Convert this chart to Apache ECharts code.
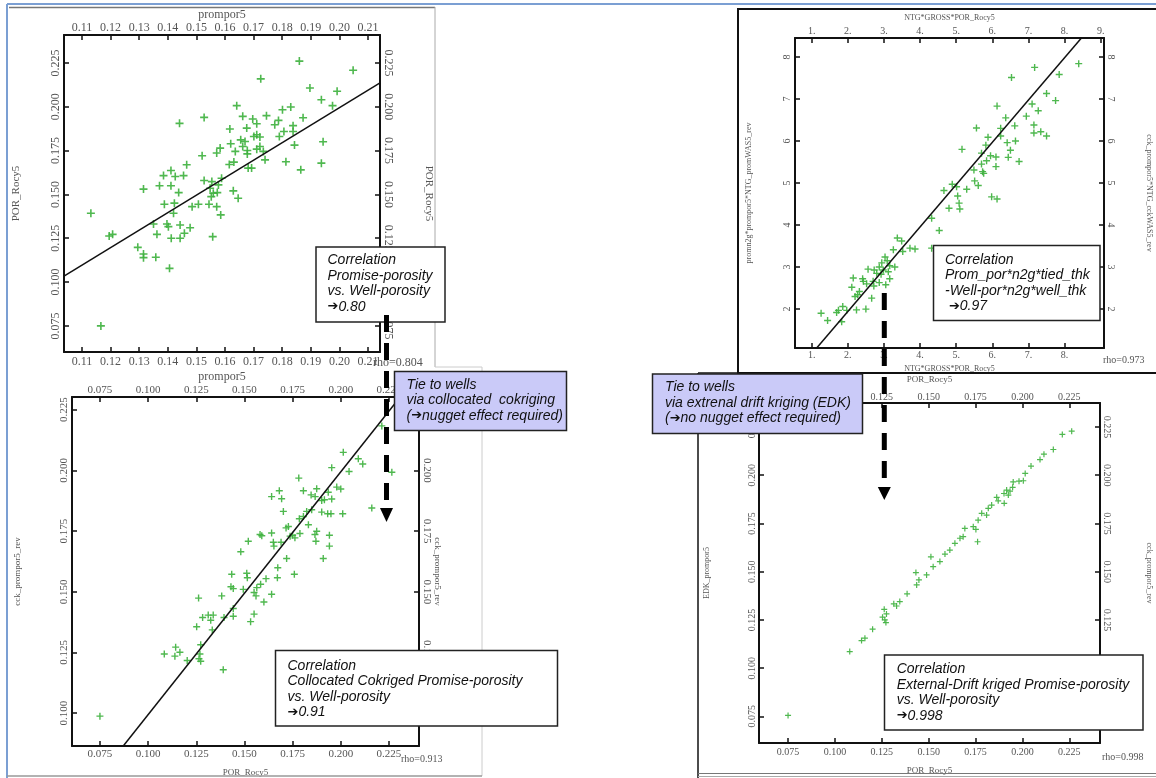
<!DOCTYPE html>
<html>
<head>
<meta charset="utf-8">
<script src="https://cdn.jsdelivr.net/npm/echarts@6/dist/echarts.min.js"></script>
<style>
html, body { margin: 0; padding: 0; background: #ffffff; }
#chart { width: 1156px; height: 778px; }
</style>
</head>
<body>
<div id="chart"></div>
<script>
// ---- Promise porosity (prompor5) vs. well porosity (POR_Rocy5) ----
const promVsWell = [
  [0.186,0.226],[0.2048,0.2208],[0.1725,0.2159],[0.1897,0.2107],[0.1992,0.2088],[0.1937,0.2040],[0.1976,0.2006],
  [0.1641,0.2006],[0.1801,0.1983],[0.1830,0.1998],[0.1662,0.1945],[0.1745,0.1949],[0.1873,0.1937],[0.1527,0.1939],
  [0.1441,0.1905],[0.1697,0.1930],[0.1711,0.1903],[0.1676,0.1878],[0.1774,0.1897],[0.1787,0.1922],[0.1838,0.1892],
  [0.1617,0.1873],[0.1790,0.1830],[0.1806,0.1859],[0.1838,0.1859],[0.1711,0.1840],[0.1701,0.1830],[0.1722,0.1827],
  [0.1655,0.1811],[0.1670,0.1802],[0.1620,0.1789],[0.1583,0.1764],[0.1662,0.1773],[0.1722,0.1773],[0.1843,0.1781],
  [0.1943,0.1800],[0.1636,0.1745],[0.1678,0.1750],[0.1678,0.1731],[0.1711,0.1758],[0.1734,0.1745],[0.1740,0.1697],
  [0.1520,0.1720],[0.1571,0.1736],[0.1631,0.1684],[0.1813,0.1686],[0.1937,0.1678],[0.1466,0.1669],[0.1615,0.1670],
  [0.1681,0.1650],[0.1693,0.1650],[0.1865,0.1640],[0.1385,0.1607],[0.1411,0.1636],[0.1426,0.1602],[0.1455,0.1607],
  [0.1527,0.1579],[0.1554,0.1573],[0.1588,0.1592],[0.1371,0.1549],[0.1411,0.1549],[0.1438,0.1510],[0.1315,0.1530],
  [0.1548,0.1535],[0.1577,0.1554],[0.1629,0.1520],[0.1559,0.1507],[0.1573,0.1510],[0.1646,0.1478],[0.1552,0.1487],
  [0.1388,0.1444],[0.1423,0.1450],[0.1485,0.1430],[0.1507,0.1444],[0.1544,0.1444],[0.1571,0.1430],[0.1585,0.1383],
  [0.1131,0.1392],[0.1350,0.1331],[0.1397,0.1331],[0.1402,0.1316],[0.1443,0.1325],[0.1478,0.1310],[0.1420,0.1392],
  [0.1195,0.1263],[0.1207,0.1272],[0.1362,0.1272],[0.1412,0.1250],[0.1443,0.1250],[0.1458,0.1278],[0.1557,0.1259],
  [0.1295,0.1198],[0.1315,0.1160],[0.1315,0.1139],[0.1358,0.1141],[0.1406,0.1078],[0.1166,0.0750]
];
const promFit = [[0.1037,0.1034],[0.2142,0.2136]];

// ---- Well porosity vs. collocated cokriged promise porosity (cck_prompor5_rev) ----
const cokrigVsWell = [
  [0.2013,0.2074],[0.2091,0.2048],[0.2114,0.2026],[0.1953,0.2011],[0.2043,0.1995],[0.2265,0.1992],[0.2213,0.2183],
  [0.1782,0.1968],[0.1681,0.1916],[0.1806,0.1916],[0.1875,0.1924],[0.1641,0.1892],[0.1693,0.1883],[0.1846,0.1899],
  [0.1867,0.1892],[0.1935,0.1910],[0.1979,0.1931],[0.2000,0.1923],[0.1901,0.1876],[0.1915,0.1879],[0.1953,0.1882],
  [0.2161,0.1845],[0.1702,0.1831],[0.1823,0.1831],[0.1849,0.1838],[0.1901,0.1828],[0.1932,0.1821],[0.1949,0.1821],
  [0.2010,0.1821],[0.1785,0.1801],[0.1806,0.1810],[0.1832,0.1776],[0.1728,0.1769],[0.1716,0.1763],[0.1875,0.1749],
  [0.1866,0.1736],[0.1941,0.1733],[0.1581,0.1736],[0.1590,0.1731],[0.1641,0.1742],[0.1737,0.1729],[0.1750,0.1733],
  [0.1762,0.1722],[0.1788,0.1740],[0.1520,0.1708],[0.1650,0.1704],[0.1690,0.1704],[0.1871,0.1708],[0.1653,0.1688],
  [0.1941,0.1688],[0.1481,0.1665],[0.1719,0.1637],[0.1909,0.1637],[0.1434,0.1572],[0.1512,0.1576],[0.1515,0.1558],
  [0.1612,0.1554],[0.1673,0.1599],[0.1671,0.1558],[0.1759,0.1572],[0.1430,0.1521],[0.1442,0.1513],[0.1382,0.1483],
  [0.1494,0.1510],[0.1550,0.1497],[0.1560,0.1483],[0.1584,0.1531],[0.1564,0.1517],[0.1641,0.1490],[0.1601,0.1458],
  [0.1262,0.1474],[0.1442,0.1431],[0.1312,0.1404],[0.1338,0.1404],[0.1325,0.1383],[0.1283,0.1394],[0.1394,0.1394],
  [0.1442,0.1399],[0.1550,0.1408],[0.1532,0.1377],[0.1252,0.1356],[0.1333,0.1343],[0.1273,0.1282],[0.1143,0.1272],
  [0.1165,0.1251],[0.1139,0.1235],[0.1084,0.1244],[0.1203,0.1217],[0.1264,0.1224],[0.1273,0.1214],[0.1269,0.1244],
  [0.1390,0.1179],[0.0750,0.0988]
];
const cokrigFit = [[0.0871,0.0865],[0.2305,0.2299]];

// ---- Thickness-weighted pore volume: NTG*GROSS*POR_Rocy5 vs. promise equivalent ----
const poreVolume = [
  [8.39,7.84],[7.17,7.75],[7.85,7.58],[6.53,7.51],[7.50,7.13],[7.75,6.96],[6.13,6.83],[7.10,6.88],[7.27,6.72],
  [6.37,6.55],[6.94,6.59],[6.62,6.36],[6.23,6.30],[5.56,6.31],[7.15,6.38],[7.15,6.19],[7.34,6.22],[7.50,6.12],
  [5.88,6.09],[6.23,6.12],[5.82,5.90],[6.41,5.96],[6.64,6.00],[5.16,5.80],[6.50,5.78],[5.70,5.71],[5.95,5.65],
  [6.10,5.62],[6.44,5.61],[5.84,5.53],[5.70,5.45],[6.74,5.51],[6.10,5.39],[5.49,5.31],[5.73,5.27],[5.76,5.23],
  [5.51,5.05],[5.61,4.94],[4.89,4.97],[5.01,4.91],[5.29,4.85],[4.66,4.82],[5.98,4.67],[6.13,4.62],[5.04,4.69],
  [5.08,4.52],[4.80,4.40],[5.10,4.38],[4.32,4.16],[4.53,3.87],[3.37,3.69],[3.49,3.62],[3.26,3.41],[3.52,3.37],
  [3.72,3.45],[3.86,3.43],[4.32,3.45],[3.03,3.24],[3.09,3.15],[2.94,3.10],[3.16,3.03],[2.87,3.00],[3.30,3.00],
  [2.56,2.95],[2.73,2.93],[2.98,2.93],[2.80,2.85],[3.12,2.89],[2.92,2.83],[2.15,2.74],[2.41,2.72],[2.43,2.66],
  [2.70,2.66],[2.52,2.60],[2.72,2.55],[2.87,2.63],[3.16,2.72],[3.05,2.58],[2.11,2.52],[2.32,2.42],[2.27,2.34],
  [2.20,2.30],[2.66,2.26],[1.86,2.06],[1.74,1.97],[1.69,1.92],[1.97,1.97],[2.24,1.98],[2.50,2.00],[1.26,1.90],
  [1.44,1.73],[1.83,1.70]
];
const poreFit = [[1.138,1.074],[8.465,8.45]];

// ---- Well porosity vs. external-drift kriged promise porosity (EDK_prompor5) ----
const edkVsWell = [
  [0.2263,0.2228],[0.2213,0.2211],[0.2165,0.2133],[0.2115,0.2109],[0.2094,0.2081],[0.2046,0.2047],[0.2015,0.2009],
  [0.2005,0.1971],[0.1982,0.1969],[0.1951,0.1965],[0.1948,0.1937],[0.1916,0.1923],[0.1934,0.1917],[0.1902,0.1905],
  [0.1925,0.1897],[0.1863,0.1885],[0.1871,0.1867],[0.1903,0.1854],[0.1836,0.1845],[0.1818,0.1828],[0.1783,0.1802],
  [0.1809,0.1793],[0.1764,0.1767],[0.1738,0.1733],[0.1693,0.1724],[0.1752,0.1719],[0.1684,0.1681],[0.1667,0.1673],
  [0.1761,0.1655],[0.1640,0.1647],[0.1613,0.1612],[0.1587,0.1591],[0.1512,0.1577],[0.1560,0.1552],[0.1524,0.1526],
  [0.1489,0.1483],[0.1432,0.1495],[0.1448,0.1457],[0.1436,0.1431],[0.1385,0.1385],[0.1346,0.1345],[0.1314,0.1333],
  [0.1329,0.1322],[0.1263,0.1305],[0.1275,0.1281],[0.1254,0.1264],[0.1266,0.1250],[0.1272,0.1236],[0.1201,0.1202],
  [0.1160,0.1155],[0.1142,0.1143],[0.1079,0.1086],[0.0750,0.0755]
];

// ---- tick values ----
const promTicksX = [0.11,0.12,0.13,0.14,0.15,0.16,0.17,0.18,0.19,0.20,0.21];
const promTicksY = [0.075,0.100,0.125,0.150,0.175,0.200,0.225];
const cokrigTicksX = [0.075,0.100,0.125,0.150,0.175,0.200,0.225];
const cokrigTicksY = [0.100,0.125,0.150,0.175,0.200,0.225];
const poreTicksTop = [1,2,3,4,5,6,7,8,9];
const poreTicksBottom = [1,2,3,4,5,6,7,8];
const poreTicksY = [2,3,4,5,6,7,8];
const edkTicksX = [0.075,0.100,0.125,0.150,0.175,0.200,0.225];
const edkTicksY = [0.075,0.100,0.125,0.150,0.175,0.200,0.225];

const rhoLabels = ['rho=0.804', 'rho=0.913', 'rho=0.973', 'rho=0.998'];

// ---- styling helpers ----
const SERIF = '"Liberation Serif", "DejaVu Serif", serif';
const SANS = '"Liberation Sans", Arial, sans-serif';
const GREEN = '#3cb03c';
const PLUS = 'path://M4,0H6V4H10V6H6V10H4V6H0V4H4Z';
const fmt2 = v => v.toFixed(2);
const fmt3 = v => v.toFixed(3);
const fmtDot = v => v + '.';
const fmtInt = v => String(v);

function valueAxis(o) {
  const isY = o.position === 'left' || o.position === 'right';
  let rotate = 0;
  if (o.position === 'left') rotate = 90;
  if (o.position === 'right') rotate = -90;
  return {
    type: 'value',
    gridIndex: o.grid,
    position: o.position,
    min: o.min,
    max: o.max,
    scale: true,
    splitLine: { show: false },
    axisLine: { show: true, onZero: false, lineStyle: { color: '#111', width: 2 } },
    axisTick: { show: true, inside: true, length: 5, customValues: o.ticks,
                lineStyle: { color: '#111', width: 1.5 } },
    axisLabel: { show: true, customValues: o.ticks, formatter: o.fmt, rotate: rotate,
                 margin: o.margin, fontFamily: SERIF, fontSize: o.fontSize, color: '#555' },
    name: o.name || '',
    nameLocation: 'middle',
    nameGap: o.nameGap || 0,
    nameRotate: o.position === 'right' ? -90 : (isY ? 90 : 0),
    nameTextStyle: { fontFamily: SERIF, fontSize: o.nameSize || 10, color: '#555' }
  };
}

const grids = [
  { left: 64,  top: 35,  width: 316, height: 317 },
  { left: 72,  top: 397, width: 347, height: 351 },
  { left: 795, top: 38,  width: 309, height: 310 },
  { left: 759, top: 403, width: 341, height: 340 }
];

const xAxes = [
  // prompor5 vs POR_Rocy5
  valueAxis({ grid: 0, position: 'bottom', min: 0.1037, max: 0.2142, ticks: promTicksX, fmt: fmt2, margin: 4, fontSize: 12,
              name: 'prompor5', nameGap: 19, nameSize: 12 }),
  valueAxis({ grid: 0, position: 'top', min: 0.1037, max: 0.2142, ticks: promTicksX, fmt: fmt2, margin: 1, fontSize: 12,
              name: 'prompor5', nameGap: 14, nameSize: 12 }),
  // POR_Rocy5 vs cck_prompor5_rev
  valueAxis({ grid: 1, position: 'bottom', min: 0.0605, max: 0.2406, ticks: cokrigTicksX, fmt: fmt3, margin: 3, fontSize: 11,
              name: 'POR_Rocy5', nameGap: 22, nameSize: 9 }),
  valueAxis({ grid: 1, position: 'top', min: 0.0605, max: 0.2406, ticks: cokrigTicksX, fmt: fmt3, margin: 1, fontSize: 11 }),
  // NTG*GROSS*POR_Rocy5 vs promise pore volume
  valueAxis({ grid: 2, position: 'bottom', min: 0.538, max: 9.09, ticks: poreTicksBottom, fmt: fmtDot, margin: 2, fontSize: 10,
              name: 'NTG*GROSS*POR_Rocy5', nameGap: 17, nameSize: 8 }),
  valueAxis({ grid: 2, position: 'top', min: 0.538, max: 9.09, ticks: poreTicksTop, fmt: fmtDot, margin: 2, fontSize: 10,
              name: 'NTG*GROSS*POR_Rocy5', nameGap: 16, nameSize: 8 }),
  // POR_Rocy5 vs EDK_prompor5
  valueAxis({ grid: 3, position: 'bottom', min: 0.0595, max: 0.2414, ticks: edkTicksX, fmt: fmt3, margin: 4, fontSize: 10,
              name: 'POR_Rocy5', nameGap: 23, nameSize: 9 }),
  valueAxis({ grid: 3, position: 'top', min: 0.0595, max: 0.2414, ticks: edkTicksX, fmt: fmt3, margin: 1, fontSize: 10,
              name: 'POR_Rocy5', nameGap: 19, nameSize: 9 })
];

const yAxes = [
  valueAxis({ grid: 0, position: 'left', min: 0.0601, max: 0.2409, ticks: promTicksY, fmt: fmt3, margin: 2, fontSize: 12,
              name: 'POR_Rocy5', nameGap: 42, nameSize: 11 }),
  valueAxis({ grid: 0, position: 'right', min: 0.0601, max: 0.2409, ticks: promTicksY, fmt: fmt3, margin: 2, fontSize: 12,
              name: 'POR_Rocy5', nameGap: 43, nameSize: 11 }),
  valueAxis({ grid: 1, position: 'left', min: 0.0865, max: 0.2302, ticks: cokrigTicksY, fmt: fmt3, margin: 2, fontSize: 11,
              name: 'cck_prompor5_rev', nameGap: 50, nameSize: 9 }),
  valueAxis({ grid: 1, position: 'right', min: 0.0865, max: 0.2302, ticks: cokrigTicksY, fmt: fmt3, margin: 2, fontSize: 11,
              name: 'cck_prompor5_rev', nameGap: 13, nameSize: 9 }),
  valueAxis({ grid: 2, position: 'left', min: 1.074, max: 8.45, ticks: poreTicksY, fmt: fmtInt, margin: 3, fontSize: 10,
              name: 'promn2g*prompor5*NTG_promWAS5_rev', nameGap: 42, nameSize: 8 }),
  valueAxis({ grid: 2, position: 'right', min: 1.074, max: 8.45, ticks: poreTicksY, fmt: fmtInt, margin: 2, fontSize: 10,
              name: 'cck_prompor5*NTG_cckWAS5_rev', nameGap: 41, nameSize: 8 }),
  valueAxis({ grid: 3, position: 'left', min: 0.0612, max: 0.2374, ticks: edkTicksY, fmt: fmt3, margin: 2, fontSize: 10,
              name: 'EDK_prompor5', nameGap: 48, nameSize: 8 }),
  valueAxis({ grid: 3, position: 'right', min: 0.0612, max: 0.2374, ticks: edkTicksY, fmt: fmt3, margin: 2, fontSize: 10,
              name: 'cck_prompor5_rev', nameGap: 45, nameSize: 8 })
];

function scatter(idx, data, size) {
  return { type: 'scatter', xAxisIndex: 2 * idx, yAxisIndex: 2 * idx, data: data,
           symbol: PLUS, symbolSize: size, itemStyle: { color: GREEN, opacity: 0.9 }, silent: true, z: 3 };
}
function fitLine(idx, data) {
  return { type: 'line', xAxisIndex: 2 * idx, yAxisIndex: 2 * idx, data: data, symbol: 'none',
           lineStyle: { color: '#111', width: 1.5 }, clip: true, silent: true, z: 4 };
}

// ---- annotation boxes, arrows and window frames ----
// "{a|➔}" marks the heavy arrow glyph inside a note line
const ARROW = '{a|\u2794}';
function noteBox(x, y, w, h, lines, fill, tx, ty) {
  return [
    { type: 'rect', z: 100, shape: { x: x, y: y, width: w, height: h },
      style: { fill: fill, stroke: '#222', lineWidth: 1.5 } },
    { type: 'text', z: 101, x: tx, y: ty,
      style: { text: lines.join('\n'), font: 'italic 14px ' + SANS, fill: '#111',
               lineHeight: 15.5, textVerticalAlign: 'top',
               rich: { a: { font: '13px "DejaVu Sans", sans-serif', fill: '#111', lineHeight: 15.5 } } } }
  ];
}
function dashedArrow(x, y1, y2, tipTop, tipBottom) {
  return [
    { type: 'line', z: 102, shape: { x1: x, y1: y1, x2: x, y2: y2 },
      style: { stroke: '#000', lineWidth: 5, lineDash: [17, 11] } },
    { type: 'polygon', z: 102, shape: { points: [[x - 6.5, tipTop], [x + 6.5, tipTop], [x, tipBottom]] },
      style: { fill: '#000' } }
  ];
}
function frameLine(x1, y1, x2, y2, color, width) {
  return { type: 'line', z: 50, shape: { x1: x1, y1: y1, x2: x2, y2: y2 },
           style: { stroke: color, lineWidth: width } };
}
function rhoText(x, y, text, size) {
  return { type: 'text', z: 60, x: x, y: y,
           style: { text: text, font: size + 'px ' + SERIF, fill: '#555', textVerticalAlign: 'middle' } };
}

const graphics = [].concat(
  [
    frameLine(7, 4, 1156, 4, '#7b9fd3', 2),
    frameLine(7, 4, 7, 778, '#7b9fd3', 2),
    frameLine(9, 7.5, 435, 7.5, '#777', 1.5),
    frameLine(435, 7, 435, 367, '#aaa', 1),
    frameLine(435, 367, 482, 367, '#ccc', 1),
    frameLine(482, 367, 482, 776, '#ccc', 1),
    frameLine(7, 776, 482, 776, '#999', 1.5),
    { type: 'rect', z: 50, shape: { x: 738, y: 9, width: 430, height: 364 },
      style: { fill: 'none', stroke: '#111', lineWidth: 2 } },
    frameLine(698, 373, 738, 373, '#111', 1.5),
    frameLine(698, 373, 698, 778, '#111', 1.5),
    frameLine(698, 773.5, 1156, 773.5, '#777', 1),
    frameLine(698, 776.5, 1156, 776.5, '#aaa', 1),
    rhoText(373, 363, rhoLabels[0], 12),
    rhoText(401, 759, rhoLabels[1], 10),
    rhoText(1103, 360, rhoLabels[2], 10),
    rhoText(1102, 757, rhoLabels[3], 10)
  ],
  noteBox(316, 247, 129, 75,
          ['Correlation', 'Promise-porosity', 'vs. Well-porosity', ARROW + '0.80'], '#ffffff', 327.5, 252.5),
  noteBox(275.5, 650.5, 282, 75.5,
          ['Correlation', 'Collocated Cokriged Promise-porosity', 'vs. Well-porosity', ARROW + '0.91'], '#ffffff', 287.5, 658.2),
  noteBox(933.5, 245.5, 166.5, 75,
          ['Correlation', 'Prom_por*n2g*tied_thk', '-Well-por*n2g*well_thk', ' ' + ARROW + '0.97'], '#ffffff', 945, 252.3),
  noteBox(884.5, 655, 258.5, 75,
          ['Correlation', 'External-Drift kriged Promise-porosity', 'vs. Well-porosity', ARROW + '0.998'], '#ffffff', 896.7, 661.5),
  dashedArrow(386.5, 315, 500, 508, 522),
  dashedArrow(884.3, 293, 478, 487, 500),
  noteBox(394.5, 371.5, 172, 59,
          ['Tie to wells', 'via collocated  cokriging', '(' + ARROW + 'nugget effect required)'], '#cacaf8', 406.5, 377.3),
  noteBox(652.5, 374, 210, 59.5,
          ['Tie to wells', 'via extrenal drift kriging (EDK)', '(' + ARROW + 'no nugget effect required)'], '#cacaf8', 665, 379.5)
);

const chart = echarts.init(document.getElementById('chart'), null, { renderer: 'canvas' });
chart.setOption({
  animation: false,
  backgroundColor: '#ffffff',
  grid: grids,
  xAxis: xAxes,
  yAxis: yAxes,
  series: [
    scatter(0, promVsWell, 8),
    fitLine(0, promFit),
    scatter(1, cokrigVsWell, 7),
    fitLine(1, cokrigFit),
    scatter(2, poreVolume, 7),
    fitLine(2, poreFit),
    scatter(3, edkVsWell, 6)
  ],
  graphic: { elements: graphics }
});
</script>
</body>
</html>
